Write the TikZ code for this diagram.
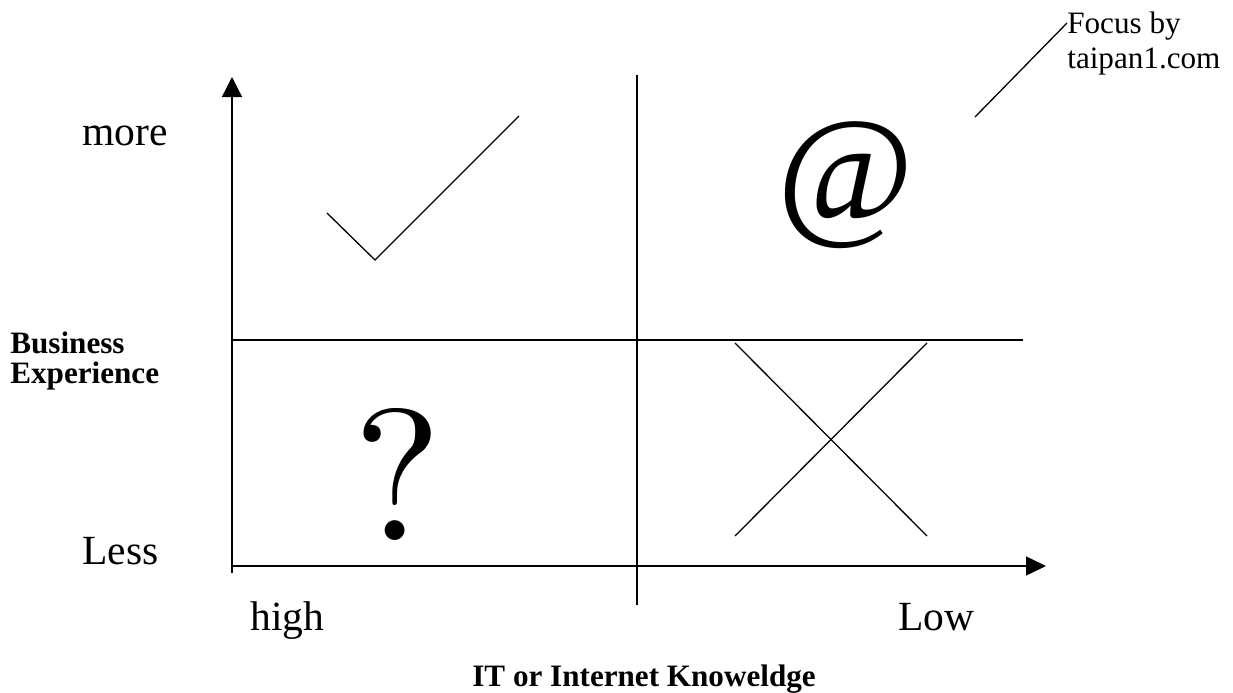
\documentclass[tikz,border=0pt]{standalone}
\usepackage{fontspec}
\setmainfont{Liberation Serif}
\newfontfamily\lmfont{Latin Modern Roman}
\usepackage{graphicx}
\usetikzlibrary{arrows.meta}
\begin{document}
\begin{tikzpicture}[x=0.578pt,y=-0.578pt,
  line/.style={line width=0.75pt,black},
  big/.style={font=\fontsize{24}{28}\selectfont,inner sep=0pt,anchor=base west},
  lbl/.style={font=\fontsize{18}{21}\selectfont\bfseries,inner sep=0pt,anchor=base west},
  note/.style={font=\fontsize{18}{21}\selectfont,inner sep=0pt,anchor=base west},
  sym/.style={inner sep=0pt,anchor=center},
  tip/.style={-{Triangle[length=11.56pt,width=11.56pt]}}]
\useasboundingbox (0,0) rectangle (1233,693);
% axes
\coordinate (vb) at (232,573);
\coordinate (vt) at (232,77);
\coordinate (hl) at (232,566);
\coordinate (hr) at (1046,566);
\draw[line,tip] (vb) -- (vt);
\draw[line,-{Triangle[length=11.56pt,width=11pt]}] (hl) -- (hr);
% quadrant lines
\coordinate (mt) at (637,75);
\coordinate (mb) at (637,605);
\coordinate (ml) at (232,340);
\coordinate (mr) at (1023,340);
\draw[line] (mt) -- (mb);
\draw[line] (ml) -- (mr);
% check mark
\coordinate (ck1) at (327,213);
\coordinate (ck2) at (375,260);
\coordinate (ck3) at (519,116);
\draw[line] (ck1) -- (ck2) -- (ck3);
% cross
\coordinate (x1) at (735,343);
\coordinate (x2) at (927,536);
\coordinate (x3) at (927,343);
\coordinate (x4) at (735,536);
\draw[line] (x1) -- (x2);
\draw[line] (x3) -- (x4);
% symbols
\node[sym] (at) at (845.8,185) {\resizebox*{!}{73.4pt}{@}};
\node[sym] (qm) at (398,474) {\resizebox*{!}{76.3pt}{\lmfont ?}};
% labels
\node[big] (more) at (82,145) {more};
\node[big] (less) at (82,564) {Less};
\node[big] (high) at (250,630) {high};
\node[big] (low) at (898,630) {Low};
\node[lbl] (bus) at (10,353) {Business};
\node[lbl] (exp) at (10,383) {Experience};
\node[lbl] (it) at (472,686) {IT or Internet Knoweldge};
\node[note] (focus) at (1067,33) {Focus by};
\node[note] (taipan) at (1067,68) {taipan1.com};
\coordinate (fl) at (975,117);
\draw[line] (fl) -- (focus.base west |- 0,23) coordinate (fe);
\end{tikzpicture}
\end{document}
